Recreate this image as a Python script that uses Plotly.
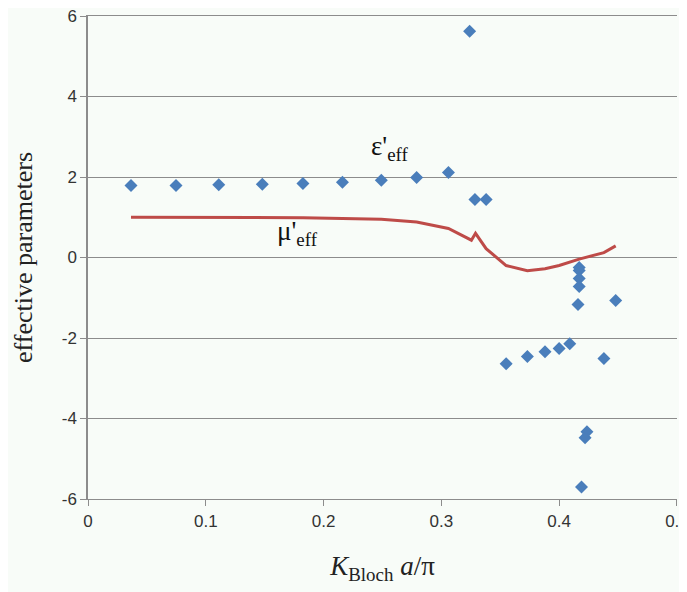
import plotly.graph_objects as go

eps_x = [0.0365, 0.0747, 0.111, 0.148, 0.1825, 0.216, 0.249, 0.279, 0.306, 0.324, 0.3285, 0.338,
         0.355, 0.373, 0.388, 0.400, 0.409, 0.417, 0.417, 0.417, 0.417, 0.416, 0.419, 0.422, 0.4236,
         0.438, 0.448]
eps_y = [1.79, 1.79, 1.81, 1.82, 1.84, 1.87, 1.92, 1.99, 2.11, 5.62, 1.44, 1.44,
         -2.64, -2.46, -2.34, -2.26, -2.14, -0.25, -0.32, -0.52, -0.72, -1.17, -5.70, -4.48, -4.33,
         -2.51, -1.07]

mu_x = [0.0365, 0.0747, 0.111, 0.148, 0.1825, 0.216, 0.249, 0.279, 0.306, 0.3255, 0.329, 0.338,
        0.355, 0.373, 0.388, 0.400, 0.409, 0.417, 0.438, 0.448]
mu_y = [1.0, 1.0, 1.0, 1.0, 0.99, 0.97, 0.95, 0.88, 0.72, 0.43, 0.60, 0.22,
        -0.20, -0.33, -0.28, -0.20, -0.11, -0.04, 0.12, 0.29]

x_ticks = [0, 0.1, 0.2, 0.3, 0.4, 0.5]
x_tick_labels = ["0", "0.1", "0.2", "0.3", "0.4", "0.5"]
y_ticks = [-6, -4, -2, 0, 2, 4, 6]
y_tick_labels = ["-6", "-4", "-2", "0", "2", "4", "6"]

fig = go.Figure()
fig.add_trace(go.Scatter(
    x=mu_x, y=mu_y, mode="lines",
    line=dict(color="#be4b48", width=3),
    showlegend=False, hoverinfo="skip"))
fig.add_trace(go.Scatter(
    x=eps_x, y=eps_y, mode="markers",
    marker=dict(symbol="diamond", size=10, color="#4a7ebb"),
    showlegend=False))

tick_font = dict(family="Liberation Sans Narrow, Arial Narrow, Liberation Sans, sans-serif",
                 size=17, color="#333333")
serif = "Liberation Serif, Times New Roman, serif"

fig.update_layout(
    width=687, height=592,
    margin=dict(l=80, r=18, t=8, b=101),
    paper_bgcolor="#f8fcf8",
    plot_bgcolor="#f8fcf8",
    xaxis=dict(
        range=[0, 0.50005], tickvals=x_ticks, ticktext=x_tick_labels,
        showgrid=False, zeroline=False,
        showline=True, mirror=True, linecolor="#8c8c8c", linewidth=1.4,
        ticks="outside", ticklen=6, tickcolor="#8c8c8c",
        tickfont=tick_font, automargin=False, ticklabeloverflow="allow",
        title=dict(text="<i>K</i><sub>Bloch</sub> <i>a</i>/π",
                   font=dict(family=serif, size=27, color="#222222"),
                   standoff=26),
    ),
    yaxis=dict(
        range=[-6, 6], tickvals=y_ticks, ticktext=y_tick_labels,
        showgrid=True, gridcolor="#8c8c8c", gridwidth=1.3,
        zeroline=False,
        showline=True, linecolor="#8c8c8c", linewidth=1.5,
        ticks="outside", ticklen=6, tickcolor="#8c8c8c",
        tickfont=tick_font, automargin=False, ticklabeloverflow="allow",
        title=dict(text="effective parameters",
                   font=dict(family=serif, size=26, color="#222222"),
                   standoff=22),
    ),
    annotations=[
        dict(x=0.256, y=2.72, xref="x", yref="y", showarrow=False,
             text="ε'<sub>eff</sub>",
             font=dict(family=serif, size=27, color="#111111")),
        dict(x=0.178, y=0.62, xref="x", yref="y", showarrow=False,
             text="μ'<sub>eff</sub>",
             font=dict(family=serif, size=27, color="#111111")),
    ],
)

fig.write_html("out.html")
